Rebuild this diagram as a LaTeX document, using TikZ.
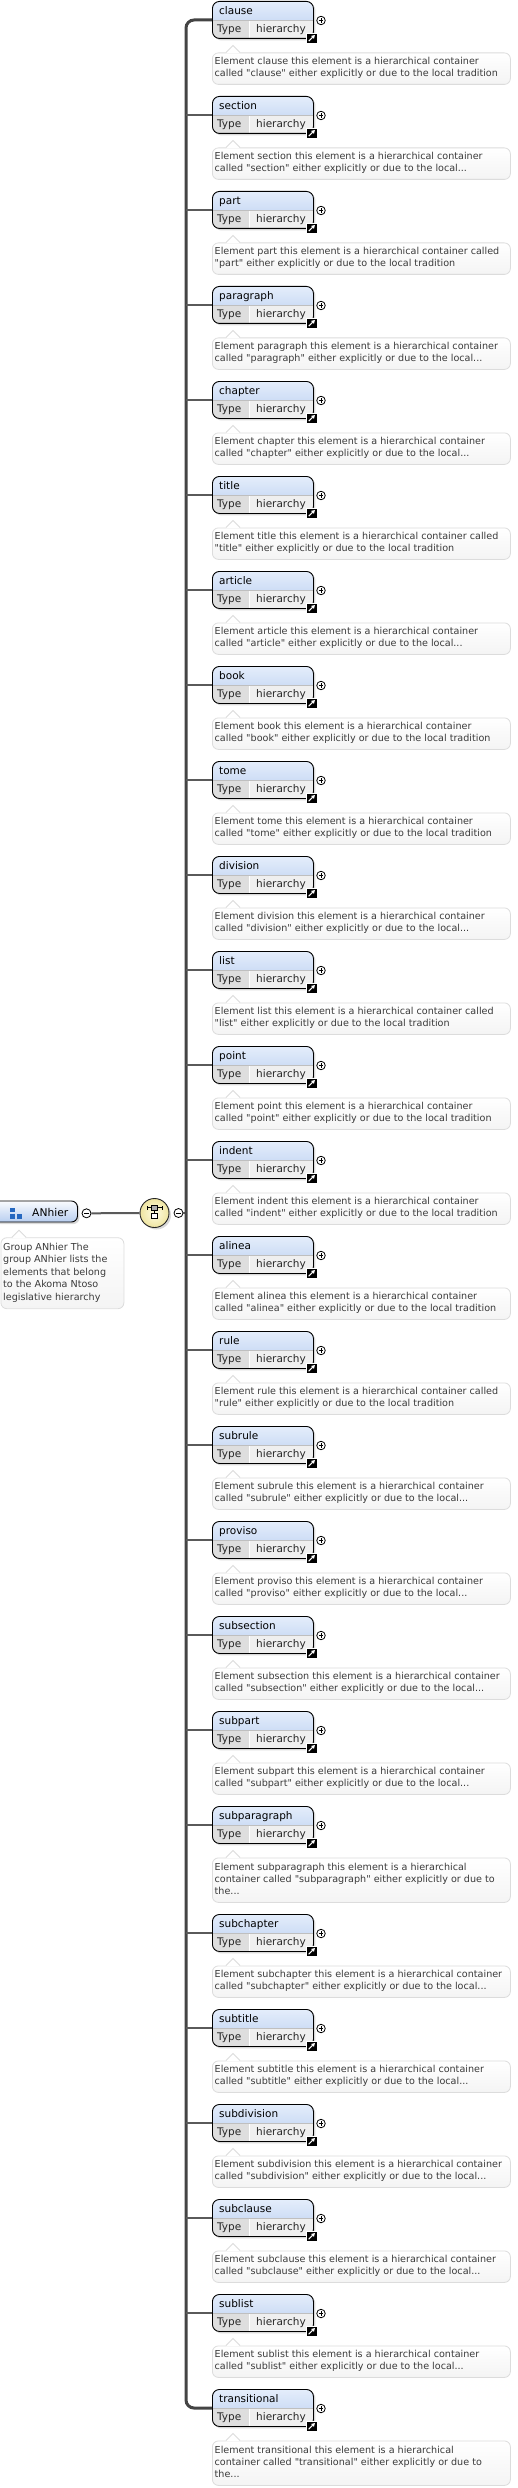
\documentclass[tikz,border=0pt]{standalone}
\usepackage{fontspec}
\setmainfont{DejaVu Sans}[Ligatures=TeXOff]
\usetikzlibrary{positioning, shadows, arrows.meta}

\definecolor{hdrtop}{RGB}{228,237,251}
\definecolor{hdrbot}{RGB}{184,206,240}
\definecolor{typedark}{RGB}{222,222,222}
\definecolor{typelight}{RGB}{239,239,239}
\definecolor{docbot}{RGB}{244,244,244}
\definecolor{docline}{RGB}{220,220,220}
\definecolor{doctextcol}{RGB}{58,58,58}
\definecolor{spinecol}{RGB}{68,68,68}
\definecolor{linkcol}{RGB}{90,90,90}
\definecolor{seqtop}{RGB}{255,253,228}
\definecolor{seqbot}{RGB}{238,228,160}
\definecolor{iconblue}{RGB}{38,104,192}

\tikzset{
  elembox/.style={anchor=north west, rectangle, rounded corners=7pt, draw=black, line width=0.9pt,
    minimum width=101pt, minimum height=37pt, inner sep=0pt, fill=typelight,
    drop shadow={shadow xshift=2pt, shadow yshift=-2pt, opacity=0.3},
    path picture={
      \shade[sharp corners, top color=hdrtop, bottom color=hdrbot] (path picture bounding box.north west) rectangle ([yshift=-19pt]path picture bounding box.north east);
      \fill[sharp corners, typedark] ([yshift=-19pt]path picture bounding box.north west) rectangle ([xshift=37pt]path picture bounding box.south west);
      \draw[white, line width=1pt] ([xshift=37pt,yshift=-19pt]path picture bounding box.north west) -- ([xshift=37pt]path picture bounding box.south west);
      \draw[black!25, line width=0.6pt] ([yshift=-19pt]path picture bounding box.north west) -- ([yshift=-19pt]path picture bounding box.north east);
    }},
  elemname/.style={anchor=base west, inner sep=0pt, font=\fontsize{10.5}{12}\selectfont},
  elemtype/.style={anchor=base west, inner sep=0pt, text=black!85, font=\fontsize{10.5}{12}\selectfont},
  plusbtn/.style={circle, draw=black, line width=0.8pt, fill=white, minimum size=8.5pt, inner sep=0pt,
    path picture={\draw[line width=0.7pt] ([xshift=-2.3pt]path picture bounding box.center) -- ([xshift=2.3pt]path picture bounding box.center)
      ([yshift=-2.3pt]path picture bounding box.center) -- ([yshift=2.3pt]path picture bounding box.center);}},
  minusbtn/.style={circle, draw=black, line width=0.8pt, fill=white, minimum size=9pt, inner sep=0pt,
    path picture={\draw[line width=0.7pt] ([xshift=-2.5pt]path picture bounding box.center) -- ([xshift=2.5pt]path picture bounding box.center);}},
  linkicon/.style={rectangle, fill=black, draw=white, line width=0.5pt, minimum size=10.5pt, inner sep=0pt,
    path picture={\draw[white, line width=1.1pt, -{Triangle[length=3.4pt, width=3.8pt]}] ([shift={(-3pt,-3pt)}]path picture bounding box.center) -- ([shift={(3.2pt,3.2pt)}]path picture bounding box.center);}},
  docbox/.style={anchor=north west, rectangle, rounded corners=6pt, draw=docline, line width=0.8pt,
    top color=white, bottom color=docbot, minimum width=298pt, inner sep=0pt},
  doctext/.style={anchor=base west, align=left, inner sep=0pt, text=doctextcol, font=\fontsize{9.6}{12.4}\selectfont},
  groupbox/.style={anchor=west, rectangle, rounded corners=6pt, draw=black, line width=0.9pt,
    minimum width=85pt, minimum height=21pt, inner sep=0pt, top color=white!80!hdrtop, bottom color=hdrbot,
    drop shadow={shadow xshift=2pt, shadow yshift=-2pt, opacity=0.3}},
  seqnode/.style={circle, draw=black!85, line width=0.9pt, minimum size=29pt, inner sep=0pt,
    inner color=seqtop, outer color=seqbot,
    drop shadow={shadow xshift=2pt, shadow yshift=-2pt, opacity=0.3}},
  spineline/.style={draw=spinecol, line width=3pt, rounded corners=8pt},
  branch/.style={draw=linkcol, line width=2pt},
}

% one element of the group: name, top, documentation, doc height
% (doc text hangs from the baseline of its last line)
\newcommand{\hierelem}[4]{%
  \node[elembox] (#1) at (212,#2) {};
  \node[elemname] (#1-name) at (219,{#2+13.3}) {#1};
  \node[elemtype] (#1-type) at (217,{#2+31.8}) {Type};
  \node[elemtype] (#1-ref) at (256,{#2+31.8}) {hierarchy};
  \node[plusbtn] (#1-plus) at (321,{#2+19.5}) {};
  \node[linkicon] (#1-link) at (311.7,{#2+37.2}) {};
  \coordinate (#1-in) at (212,{#2+19});
  \node[docbox, minimum height=#4pt] (#1-doc) at (212,{#2+51.5}) {};
  \fill[white] (226,{#2+52.3}) -- (233,{#2+44.5}) -- (240,{#2+52.3}) -- cycle;
  \draw[docline, line width=0.8pt] (226,{#2+51.5}) -- (233,{#2+44.5}) -- (240,{#2+51.5});
  \node[doctext] (#1-txt) at (214.5,{#2+44.4+#4}) {#3};
}

\begin{document}
\begin{tikzpicture}[x=1pt, y=-1pt]
\useasboundingbox (0,0) rectangle (518,2488);

% group and sequence
\node[groupbox] (anhier) at (-8,1211.5) {};
\fill[iconblue] (10,1207.5) rectangle (15,1212.3);
\fill[iconblue] (10,1214.3) rectangle (15,1219.3);
\fill[iconblue] (16.7,1214.3) rectangle (21.7,1219.3);
\node[anchor=base west, inner sep=0pt, font=\fontsize{10.7}{12}\selectfont] (anhier-name) at (32,1216.5) {ANhier};
\node[minusbtn] (anhier-minus) at (86.5,1213.3) {};
\node[docbox, minimum width=123pt, minimum height=71pt] (anhier-doc) at (0.5,1237.3) {};
\fill[white] (12,1238.1) -- (19,1230.3) -- (26,1238.1) -- cycle;
\draw[docline, line width=0.8pt] (12,1237.3) -- (19,1230.3) -- (26,1237.3);
\node[doctext, font=\fontsize{9.6}{12.5}\selectfont] (anhier-txt) at (3,1300) {Group ANhier The\\group ANhier lists the\\elements that belong\\to the Akoma Ntoso\\legislative hierarchy};

\node[seqnode] (seq) at (154.5,1213) {};
\draw[line width=0.7pt] ([shift={(-7.5pt,5.5pt)}]seq.center) -- ([shift={(7.5pt,5.5pt)}]seq.center)
  ([shift={(-7.5pt,3.5pt)}]seq.center) -- ([shift={(-7.5pt,7.5pt)}]seq.center)
  ([shift={(7.5pt,3.5pt)}]seq.center) -- ([shift={(7.5pt,7.5pt)}]seq.center)
  ([shift={(0pt,3pt)}]seq.center) -- ([shift={(0pt,0pt)}]seq.center);
\filldraw[fill=gray!65, draw=black, line width=0.6pt] ([shift={(-3pt,3pt)}]seq.center) rectangle ([shift={(3pt,8pt)}]seq.center);
\filldraw[fill=white, draw=black, line width=0.6pt] ([shift={(-3pt,-5.3pt)}]seq.center) rectangle ([shift={(3pt,0pt)}]seq.center);
\node[minusbtn] (seq-minus) at (178.5,1213) {};
\coordinate (spine) at (186,1213);

\draw[branch] (anhier-minus) -- (seq);
\draw[branch] (seq-minus) -- (spine);

% elements
\hierelem{clause}{1}{Element clause this element is a hierarchical container\\called "clause" either explicitly or due to the local tradition}{31.5}
\hierelem{section}{96}{Element section this element is a hierarchical container\\called "section" either explicitly or due to the local...}{31.5}
\hierelem{part}{191}{Element part this element is a hierarchical container called\\"part" either explicitly or due to the local tradition}{31.5}
\hierelem{paragraph}{286}{Element paragraph this element is a hierarchical container\\called "paragraph" either explicitly or due to the local...}{31.5}
\hierelem{chapter}{381}{Element chapter this element is a hierarchical container\\called "chapter" either explicitly or due to the local...}{31.5}
\hierelem{title}{476}{Element title this element is a hierarchical container called\\"title" either explicitly or due to the local tradition}{31.5}
\hierelem{article}{571}{Element article this element is a hierarchical container\\called "article" either explicitly or due to the local...}{31.5}
\hierelem{book}{666}{Element book this element is a hierarchical container\\called "book" either explicitly or due to the local tradition}{31.5}
\hierelem{tome}{761}{Element tome this element is a hierarchical container\\called "tome" either explicitly or due to the local tradition}{31.5}
\hierelem{division}{856}{Element division this element is a hierarchical container\\called "division" either explicitly or due to the local...}{31.5}
\hierelem{list}{951}{Element list this element is a hierarchical container called\\"list" either explicitly or due to the local tradition}{31.5}
\hierelem{point}{1046}{Element point this element is a hierarchical container\\called "point" either explicitly or due to the local tradition}{31.5}
\hierelem{indent}{1141}{Element indent this element is a hierarchical container\\called "indent" either explicitly or due to the local tradition}{31.5}
\hierelem{alinea}{1236}{Element alinea this element is a hierarchical container\\called "alinea" either explicitly or due to the local tradition}{31.5}
\hierelem{rule}{1331}{Element rule this element is a hierarchical container called\\"rule" either explicitly or due to the local tradition}{31.5}
\hierelem{subrule}{1426}{Element subrule this element is a hierarchical container\\called "subrule" either explicitly or due to the local...}{31.5}
\hierelem{proviso}{1521}{Element proviso this element is a hierarchical container\\called "proviso" either explicitly or due to the local...}{31.5}
\hierelem{subsection}{1616}{Element subsection this element is a hierarchical container\\called "subsection" either explicitly or due to the local...}{31.5}
\hierelem{subpart}{1711}{Element subpart this element is a hierarchical container\\called "subpart" either explicitly or due to the local...}{31.5}
\hierelem{subparagraph}{1806}{Element subparagraph this element is a hierarchical\\container called "subparagraph" either explicitly or due to\\the...}{44.5}
\hierelem{subchapter}{1914}{Element subchapter this element is a hierarchical container\\called "subchapter" either explicitly or due to the local...}{31.5}
\hierelem{subtitle}{2009}{Element subtitle this element is a hierarchical container\\called "subtitle" either explicitly or due to the local...}{31.5}
\hierelem{subdivision}{2104}{Element subdivision this element is a hierarchical container\\called "subdivision" either explicitly or due to the local...}{31.5}
\hierelem{subclause}{2199}{Element subclause this element is a hierarchical container\\called "subclause" either explicitly or due to the local...}{31.5}
\hierelem{sublist}{2294}{Element sublist this element is a hierarchical container\\called "sublist" either explicitly or due to the local...}{31.5}
\hierelem{transitional}{2389}{Element transitional this element is a hierarchical\\container called "transitional" either explicitly or due to\\the...}{44.5}

% sequence links
\draw[spineline] (clause-in) -| (spine) |- (transitional-in);
\foreach \e in {section, part, paragraph, chapter, title, article, book, tome, division, list, point,
  indent, alinea, rule, subrule, proviso, subsection, subpart, subparagraph, subchapter, subtitle,
  subdivision, subclause, sublist}
  \draw[branch] (spine |- \e-in) -- (\e-in);
\end{tikzpicture}
\end{document}
